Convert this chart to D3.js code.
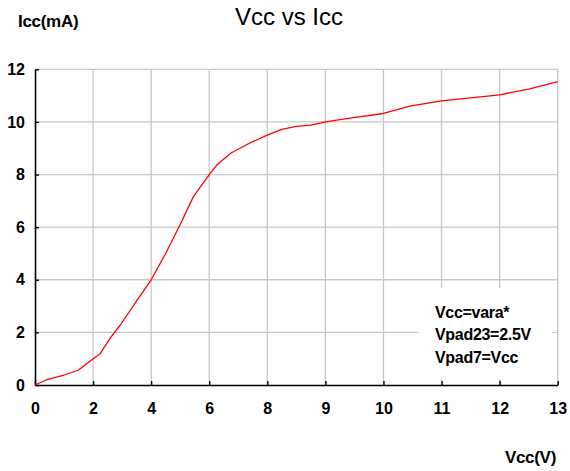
<!DOCTYPE html>
<html>
<head>
<meta charset="utf-8">
<script src="https://cdn.jsdelivr.net/npm/d3@7"></script>
<style>
	body { margin: 0; background: #fff; }
	svg { display: block; font-family: "Liberation Sans", Arial, Helvetica, sans-serif; }
</style>
</head>
<body>
<div id="chart"></div>
<script>
(function () {
	'use strict';

	// Vcc (V) tick values - axis spacing is equal per tick, not linear
	var xTicks = [0, 2, 4, 6, 8, 9, 10, 11, 12, 13];
	var yTicks = [0, 2, 4, 6, 8, 10, 12];

	// measured curve
	var vcc = [0, 0.4, 1.0, 1.5, 1.95, 2.25, 2.6, 2.95, 3.5, 4.0, 4.5, 5.0, 5.45, 6.0, 6.25, 6.75, 7.4, 8.0, 8.25, 8.5, 8.75, 9.0, 9.45, 10.0, 10.45, 11.0, 12.0, 12.5, 13.0];
	var icc = [0, 0.2, 0.38, 0.57, 0.95, 1.2, 1.8, 2.3, 3.2, 4.0, 5.0, 6.1, 7.15, 8.0, 8.35, 8.82, 9.2, 9.5, 9.72, 9.83, 9.88, 10.0, 10.15, 10.32, 10.6, 10.8, 11.03, 11.25, 11.53];

	var notes = ["Vcc=vara*", "Vpad23=2.5V", "Vpad7=Vcc"];

	var width = 570, height = 471;
	var margin = {left: 35, top: 69.3, right: 12.3, bottom: 86};
	var w = width - margin.left - margin.right;
	var h = height - margin.top - margin.bottom;

	var svg = d3.select("#chart")
		.append("svg")
		.attr("width", width)
		.attr("height", height);

	// piecewise scale: each tick interval gets the same width
	var x = d3.scaleLinear()
		.domain(xTicks)
		.range(xTicks.map(function(d, i) { return i * w / (xTicks.length - 1); }));
	var y = d3.scaleLinear().domain([0, 12]).range([h, 0]);

	var g = svg.append("g").attr("transform", "translate(" + margin.left + "," + margin.top + ")");

	// grid
	g.append("g").selectAll("line.gx").data(xTicks.slice(1)).enter()
		.append("line")
		.attr("x1", x).attr("x2", x)
		.attr("y1", 0).attr("y2", h)
		.attr("stroke", "#c8c8c8")
		.attr("stroke-width", 1.3);
	g.append("g").selectAll("line.gy").data(yTicks.slice(1)).enter()
		.append("line")
		.attr("x1", 0).attr("x2", w)
		.attr("y1", y).attr("y2", y)
		.attr("stroke", "#c8c8c8")
		.attr("stroke-width", 1.3);

	// legend box hides grid behind it
	g.append("rect")
		.attr("x", 383).attr("y", 219)
		.attr("width", 134).attr("height", 91)
		.attr("fill", "#fff");

	// axes with inner ticks
	var xAxis = g.append("g")
		.attr("transform", "translate(0," + h + ")")
		.call(d3.axisBottom(x).tickValues(xTicks).tickSizeInner(-4).tickSizeOuter(0).tickPadding(20).tickFormat(d3.format("d")));
	var yAxis = g.append("g")
		.call(d3.axisLeft(y).tickValues(yTicks).tickSizeInner(-4).tickSizeOuter(0).tickPadding(10).tickFormat(d3.format("d")));

	[xAxis, yAxis].forEach(function(a) {
		a.select(".domain").attr("stroke", "#000").attr("stroke-width", 1.6);
		a.selectAll(".tick line").attr("stroke", "#000").attr("stroke-width", 1.4);
		a.selectAll(".tick text")
			.attr("fill", "#000")
			.style("font-family", "'Liberation Sans', Arial, sans-serif")
			.style("font-size", "16px")
			.style("font-weight", "bold");
	});
	xAxis.selectAll(".tick text").attr("dy", "0.71em").attr("y", 18);
	yAxis.selectAll(".tick text").attr("x", -10);

	// curve
	var line = d3.line()
		.x(function(d) { return x(d[0]); })
		.y(function(d) { return y(d[1]); });

	g.append("path")
		.datum(d3.zip(vcc, icc))
		.attr("fill", "none")
		.attr("stroke", "#ff0000")
		.attr("stroke-width", 1.3)
		.attr("stroke-linejoin", "round")
		.attr("d", line);

	// annotation
	g.append("g").selectAll("text").data(notes).enter()
		.append("text")
		.attr("x", 400)
		.attr("y", function(d, i) { return 248.7 + i * 22.5; })
		.attr("font-size", "16px")
		.attr("font-weight", "bold")
		.attr("letter-spacing", "-0.3px")
		.text(function(d) { return d; });

	// titles
	svg.append("text")
		.attr("x", 289).attr("y", 25)
		.attr("text-anchor", "middle")
		.attr("font-size", "24px")
		.text("Vcc vs Icc");
	svg.append("text")
		.attr("x", 18).attr("y", 27)
		.attr("font-size", "17px")
		.attr("font-weight", "bold")
		.attr("letter-spacing", "-0.3px")
		.text("Icc(mA)");
	svg.append("text")
		.attr("x", 556).attr("y", 463)
		.attr("text-anchor", "end")
		.attr("font-size", "17px")
		.attr("font-weight", "bold")
		.attr("letter-spacing", "-0.3px")
		.text("Vcc(V)");
}());
</script>
</body>
</html>
